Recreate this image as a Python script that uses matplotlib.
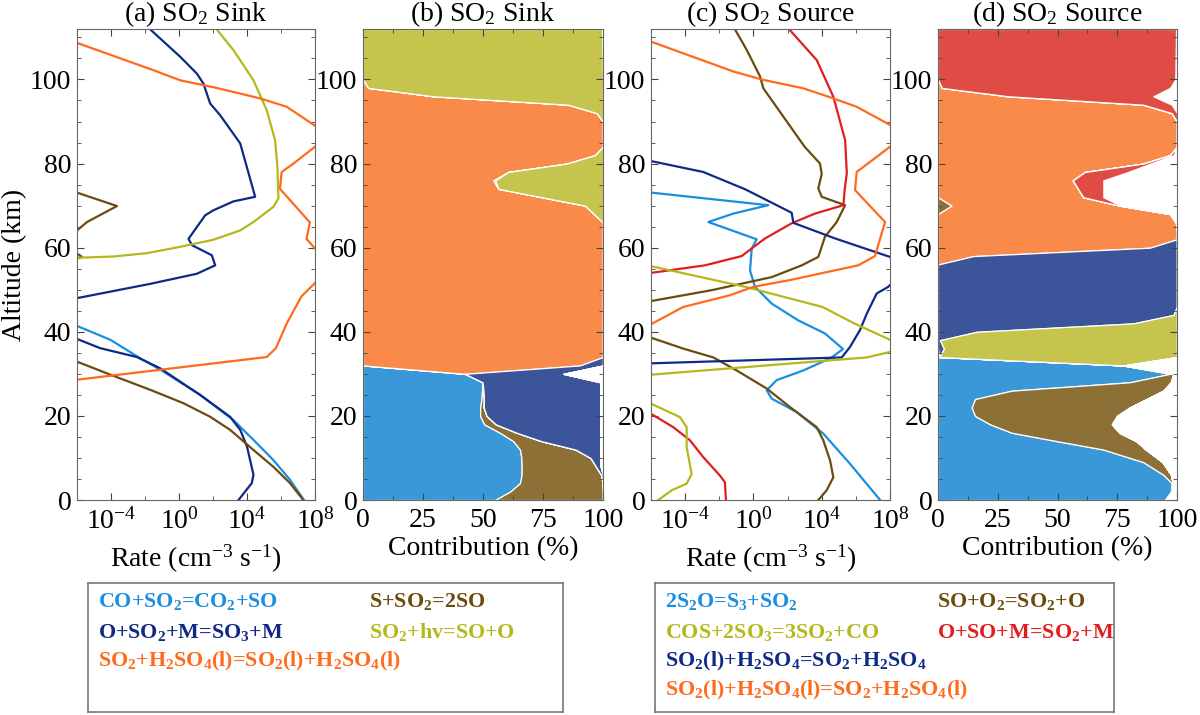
import numpy as np
import matplotlib
matplotlib.use("Agg")
import matplotlib.pyplot as plt
from matplotlib.ticker import FixedLocator, NullFormatter, LogFormatterMathtext, MultipleLocator

plt.rcParams['font.family'] = 'Liberation Serif'
plt.rcParams['mathtext.fontset'] = 'custom'
plt.rcParams['mathtext.rm'] = 'Liberation Serif'
plt.rcParams['mathtext.it'] = 'Liberation Serif:italic'
plt.rcParams['mathtext.bf'] = 'Liberation Serif:bold'
plt.rcParams['mathtext.default'] = 'rm'

nan = np.nan

# ---- (a) SO2 sink rates : altitude (km) / log10 rate (cm-3 s-1)
a_co_so2_alt = [0, 4.8, 9.5, 14.3, 19, 25, 31, 33.7, 38.1, 41.4]
a_co_so2_log = [7.35, 6.53, 5.55, 4.38, 3.2, 1.24, -1.1, -2.28, -4.04, -6]
a_o_so2_m_alt = [0, 4, 6, 12.7, 16.7, 19.8, 25, 31.3, 34, 36.1, 38.3, nan,
                 48, 51.4, 53.8, 55.8, 58.2, 60.6, 62.1, 64.9, 67.7, 68.9, 71, 72.1,
                 84.8, 91.5, 94.3, 99, 101.4, 105.4, 111.9]
a_o_so2_m_log = [3.5, 4.28, 4.38, 4.0, 3.6, 3.0, 1.24, -1.1, -2.48, -4.63, -6, nan,
                 -6, -1.69, 1.05, 2.13, 1.93, 0.76, 0.56, 1.05, 1.54, 2.03, 3.2, 4.48,
                 3.6, 2.42, 1.83, 1.44, 1.05, 0.07, -1.69]
a_s_so2_alt = [0, 4, 7.9, 11.9, 16.7, 19.8, 23, 26.2, 29.8, 32.9, nan,
               57.4, 57.8, 58.6, nan, 64.1, 66.1, 69.9, 73.1]
a_s_so2_log = [7.31, 6.53, 5.55, 4.38, 3.0, 1.83, 0.27, -1.69, -4.04, -6, nan,
               -6, -5.7, -6, nan, -6, -5.41, -3.65, -6]
a_so2_hv_alt = [57.6, 57.9, 58.7, 60.2, 61.9, 64.1, 66.1, 69.7, 71.7, 79.2, 85.6, 92.7, 99.8, 107, 111.9]
a_so2_hv_log = [-6, -3.85, -1.89, 0.07, 2.03, 3.6, 4.38, 5.55, 5.85, 5.79, 5.65, 5.16, 4.38, 3.2, 2.22]
a_h2so4_alt = [28.6, 34, 36.1, 42, 48.4, 51.6, nan, 59.8, 62.1, 66, 74, 78, 80, 84, nan,
               89, 93.5, 95.5, 98, 99.8, 102.2, 108.7]
a_h2so4_log = [-6, 5.16, 5.7, 6.34, 7.2, 8, nan, 8, 7.5, 7.7, 5.94, 6.04, 6.73, 8, nan,
               8, 6.34, 4.77, 2.2, 0.07, -1.5, -6]

# ---- (b) SO2 sink contributions (%)
alt_b = [0, 2, 4, 6, 8, 10, 12, 14, 16, 18, 20, 22, 24, 26, 28, 30, 32, 34,
         66, 70, 74, 76, 78, 80, 82, 84, 90, 92, 94, 96, 98, 100, 112]
b_co_so2 = [55, 61.3, 65.4, 66.1, 66.1, 66.0, 65.4, 62.6, 57.0, 50.5, 48.8, 48.8, 49.4, 49.6, 49.8, 42.5,
            0, 0, 0, 0, 0, 0, 0, 0, 0, 0, 0, 0, 0, 0, 0, 0, 0]
b_s_so2 = [45, 38.7, 34.4, 33.1, 30.9, 28.8, 23.1, 11.7, 7.0, 4.8, 2.7, 1.5, 1.0, 0.6, 0, 0,
           0, 0, 0, 0, 0, 0, 0, 0, 0, 0, 0, 0, 0, 0, 0, 0, 0]
b_h2so4 = [0, 0, 0, 0, 0, 0, 0, 0, 0, 0, 0, 0, 0, 0, 0, 0,
           90.4, 100, 100, 92.5, 56.4, 54.3, 60.5, 84.9, 96.7, 100, 100, 97.4, 85.5, 29.3, 2.2, 0, 0]
b_o_so2_m = [0, 0, 0.2, 0.8, 2.0, 4.2, 10.5, 24.7, 35.0, 43.7, 47.5, 48.7, 48.6, 48.8, 49.0, 41.0,
             9.6, 0, 0, 0, 0, 0.8, 0, 0, 0, 0, 0, 0, 0, 0, 0, 0, 0]
b_so2_hv = [0, 0, 0, 0, 0, 0, 0, 0, 0, 0, 0, 0, 0, 0, 0, 0, 0, 0,
            0, 7.5, 43.6, 44.9, 39.5, 15.1, 3.3, 0, 0, 2.6, 14.5, 70.7, 97.8, 100, 99.6]

# ---- (c) SO2 source rates
c_s2o_alt = [0, 8.6, 15.8, 20.9, 24.1, 26.1, 28.5, 30.8, 33.8, 35.9, 39.6, 42.7, 46.7, 50.7,
             54.6, 59.8, 62.0, 66.1, 68.1, 70.1, 73.1]
c_s2o_log = [7.42, 5.66, 4.09, 2.54, 1.07, 0.78, 1.36, 2.92, 4.55, 5.25, 4.19, 2.63, 1.07, 0.09,
             -0.2, -0.1, 0.19, -2.64, -1.18, 0.87, -6]
c_so_o2_alt = [0, 2.3, 5.4, 9.4, 14.2, 17.3, 22.1, 26.5, 30.8, 33.9, 36.0, 38.6, nan,
               47.3, 49.9, 53.0, 55.8, 57.8, 62.6, 66.1, 70.1, 72.1, 74.1, 77.5, 80, 84,
               97.9, 100.7, 107, 111.9]
c_so_o2_log = [3.8, 4.29, 4.68, 4.49, 4.09, 3.71, 2.14, 0.78, -0.98, -2.35, -4.11, -6, nan,
               -6, -2.44, 1.07, 2.83, 3.8, 4.19, 4.88, 5.37, 4.0, 3.8, 4.0, 3.9, 3.0,
               0.58, 0.39, -0.39, -1.08]
c_o_so_m_alt = [0, 4.2, 5.8, 10.2, 14.2, 17.3, 20.5, nan,
                54.0, 55.8, 58.0, 62.2, 65.8, 68.1, 70.1, 74, 77.7, 85.6, 95.9, 104.6, 111.9]
c_o_so_m_log = [-1.61, -1.67, -1.96, -2.94, -3.72, -4.69, -6, nan,
                -6, -2.84, -0.69, 0.68, 2.24, 3.6, 5.27, 5.35, 5.47, 5.37, 4.68, 3.71, 2.10]
c_so2l_alt = [32.5, 33.9, 36.4, 40.4, 44.3, 49.1, 50.7, 51.1, nan,
              57.8, 62.2, 65.9, 68.3, 73.9, 78.0, 80.6]
c_so2l_log = [-6, 5.17, 5.66, 6.24, 6.64, 7.22, 7.9, 8, nan,
              8, 4.78, 2.34, 2.24, -0.49, -2.94, -6]
c_cos_alt = [0, 2.3, 3.9, 6.2, 12.6, 17.3, 19.7, 22.9, nan, 29.8, 33.9, 35.2, nan,
             38.1, 42, 45.9, 50.7, 55.6]
c_cos_log = [-5.57, -4.79, -3.91, -3.62, -3.91, -3.91, -4.3, -6, nan, -6, 6.64, 8, nan,
             8, 5.9, 4.05, -0.49, -6]
c_h2so4l_alt = [41.8, 45.9, 48.7, 50.7, 52.3, 55.8, 58.0, 66.1, 73.7, 78.0, 84.0, nan,
                89.2, 93.5, 95.5, 97.9, 99.9, 101.9, 109.0]
c_h2so4l_log = [-6, -4.11, -1.37, 0, 2.14, 6.14, 7.12, 7.71, 5.95, 6.05, 8, nan,
                8, 6.05, 4.68, 2.92, 0.58, -1.18, -6]

# ---- (d) SO2 source contributions (%)
alt_d = [0, 2, 4, 6, 9, 12, 14, 16, 18, 20, 22, 24, 26, 28, 30, 32, 34, 36, 38, 40, 42, 44, 46,
         56, 58, 60, 62, 64, 66, 68, 70, 72, 74, 76, 78, 80, 82, 84, 90, 92, 94, 96, 98, 100, 112]
d_s2o = [95, 97.5, 97.8, 94.3, 85.9, 69.2, 49.7, 30.8, 21.8, 15.5, 14.1, 15.5, 30.8, 80.3, 97.1, 77.5, 0.5,
         0, 0, 0, 0, 0, 0, 0, 0, 0, 0, 0, 0, 0, 0, 0, 0, 0, 0, 0, 0, 0, 0, 0, 0, 0, 0, 0, 0]
d_so_o2 = [0, 0.5, 0.4, 3.2, 8.1, 17.8, 33.3, 45.2, 51.0, 59.5, 66.2, 71.8, 63.5, 17.2, 1.4, 0,
           0, 0, 0, 0, 0, 0, 0, 0, 0, 0, 0, 0, 0, 0,
           5.7, 0, 0, 0, 0, 0, 0, 0, 0, 0, 0, 0, 0, 0, 0]
d_h2so4l = [0, 0, 0, 0, 0, 0, 0, 0, 0, 0, 0, 0, 0, 0, 0, 0, 0, 0, 0, 0, 0, 0, 0,
            0, 14.8, 88.7, 100, 100, 99.5, 97, 70.3, 60.8, 58.6, 56.4, 61.5, 85.9, 97.1, 100,
            100, 97.8, 85.9, 29.4, 1.6, 0, 0]
d_so2l = [0, 0, 0, 0, 0, 0, 0, 0, 0, 0, 0, 0, 0, 0, 0, 0, 0,
          2.5, 0.8, 16.2, 81.7, 98.5, 100, 100, 85.2, 11.3, 0,
          0, 0, 0, 0, 0, 0, 0, 0, 0, 0, 0, 0, 0, 0, 0, 0, 0, 0]
d_cos = [0, 0, 0, 0, 0, 0, 0, 0, 0, 0, 0, 0, 0, 0, 0, 0,
         99.5, 97.5, 99.2, 83.8, 18.3, 1.5, 0,
         0, 0, 0, 0, 0, 0, 0, 0, 0, 0, 0, 0, 0, 0, 0, 0, 0, 0, 0, 0, 0, 0]
d_o_so_m = [0, 0, 0, 0, 0, 0, 0, 0, 0, 0, 0, 0, 0, 0, 0, 0, 0, 0, 0, 0, 0, 0, 0,
            0, 0, 0, 0, 0, 0, 0, 0.5, 8.4, 10.6, 12.8, 18.0, 3.0, 1.5, 0,
            0, 2.2, 11.9, 60.7, 95.5, 99.3, 99.6]

# colours
ln = {'lblue': '#1b8ee0', 'navy': '#0f2a86', 'brown': '#6b4b0e',
      'olive': '#b5b81a', 'orange': '#ff6a1c', 'red': '#e21d1d'}
fl = {'lblue': '#3a98d8', 'navy': '#3c5499', 'brown': '#8c7035',
      'olive': '#c5c44c', 'orange': '#f98a4a', 'red': '#e04b45'}

W, H = 1200, 715
fig = plt.figure(figsize=(12, 7.15), dpi=100)

def px_axes(x0, x1, y0, y1):
    return fig.add_axes([x0 / W, 1 - y1 / H, (x1 - x0) / W, (y1 - y0) / H])

def style(ax, log):
    ax.set_ylim(0, 112)
    ax.yaxis.set_major_locator(MultipleLocator(20))
    ax.yaxis.set_minor_locator(MultipleLocator(5))
    if log:
        ax.set_xscale('log')
        ax.set_xlim(1e-6, 1e8)
        ax.xaxis.set_major_locator(FixedLocator([1e-4, 1e0, 1e4, 1e8]))
        ax.xaxis.set_major_formatter(LogFormatterMathtext())
        ax.xaxis.set_minor_locator(FixedLocator([1e-2, 1e2, 1e6]))
        ax.xaxis.set_minor_formatter(NullFormatter())
        ax.set_xlabel('Rate (cm$^{-3}$ s$^{-1}$)', fontsize=20, labelpad=6)
    else:
        ax.set_xlim(0, 100)
        ax.xaxis.set_major_locator(MultipleLocator(25))
        ax.xaxis.set_minor_locator(MultipleLocator(12.5))
        ax.set_xlabel('Contribution (%)', fontsize=20, labelpad=2)
    ax.tick_params(which='both', direction='in', top=True, right=True,
                   labelsize=20, color='#444444')
    ax.tick_params(axis='x', pad=6)
    ax.tick_params(axis='y', pad=4)
    ax.tick_params(which='major', length=5)
    ax.tick_params(which='minor', length=3)
    for s in ax.spines.values():
        s.set_color('#666666')
        s.set_zorder(5)

def rate_line(ax, alt, logv, color):
    ax.plot(10 ** np.array(logv, dtype=float), alt, color=color, lw=1.6, clip_on=True)

def stack(ax, alt, parts, colors):
    left = np.zeros(len(alt))
    for p, c in zip(parts, colors):
        right = left + np.array(p, dtype=float)
        ax.fill_betweenx(alt, left, right, facecolor=c, edgecolor='white', linewidth=0.9)
        left = right

# (a)
ax_a = px_axes(77, 315, 29, 500)
rate_line(ax_a, a_co_so2_alt, a_co_so2_log, ln['lblue'])
rate_line(ax_a, a_o_so2_m_alt, a_o_so2_m_log, ln['navy'])
rate_line(ax_a, a_s_so2_alt, a_s_so2_log, ln['brown'])
rate_line(ax_a, a_so2_hv_alt, a_so2_hv_log, ln['olive'])
rate_line(ax_a, a_h2so4_alt, a_h2so4_log, ln['orange'])
style(ax_a, True)
ax_a.set_ylabel('Altitude (km)', fontsize=20)
ax_a.yaxis.set_label_coords(-0.21, 0.5)
ax_a.set_title('(a) SO$_2$ Sink', fontsize=20, pad=5)

# (b)
ax_b = px_axes(363, 603, 29, 500)
stack(ax_b, alt_b, [b_co_so2, b_s_so2, b_h2so4, b_o_so2_m, b_so2_hv],
      [fl['lblue'], fl['brown'], fl['orange'], fl['navy'], fl['olive']])
style(ax_b, False)
ax_b.set_title('(b) SO$_2$ Sink', fontsize=20, pad=5)

# (c)
ax_c = px_axes(651, 890, 29, 500)
rate_line(ax_c, c_s2o_alt, c_s2o_log, ln['lblue'])
rate_line(ax_c, c_so_o2_alt, c_so_o2_log, ln['brown'])
rate_line(ax_c, c_o_so_m_alt, c_o_so_m_log, ln['red'])
rate_line(ax_c, c_so2l_alt, c_so2l_log, ln['navy'])
rate_line(ax_c, c_cos_alt, c_cos_log, ln['olive'])
rate_line(ax_c, c_h2so4l_alt, c_h2so4l_log, ln['orange'])
style(ax_c, True)
ax_c.set_title('(c) SO$_2$ Source', fontsize=20, pad=5)

# (d)
ax_d = px_axes(938, 1177, 29, 500)
stack(ax_d, alt_d, [d_s2o, d_so_o2, d_h2so4l, d_so2l, d_cos, d_o_so_m],
      [fl['lblue'], fl['brown'], fl['orange'], fl['navy'], fl['olive'], fl['red']])
style(ax_d, False)
ax_d.set_title('(d) SO$_2$ Source', fontsize=20, pad=5)

# legend boxes
def sub(s):
    # "SO_2" -> bold mathtext subscript
    out = ''
    i = 0
    while i < len(s):
        if s[i] == '_':
            out += r'$_\mathbf{' + s[i + 1] + '}$'
            i += 2
        else:
            out += s[i]
            i += 1
    return out

sink_labels = [('CO+SO_2=CO_2+SO', 'lblue', 0, 0), ('O+SO_2+M=SO_3+M', 'navy', 0, 1),
               ('SO_2+H_2SO_4(l)=SO_2(l)+H_2SO_4(l)', 'orange', 0, 2),
               ('S+SO_2=2SO', 'brown', 1, 0), ('SO_2+hv=SO+O', 'olive', 1, 1)]
source_labels = [('2S_2O=S_3+SO_2', 'lblue', 0, 0), ('COS+2SO_3=3SO_2+CO', 'olive', 0, 1),
                 ('SO_2(l)+H_2SO_4=SO_2+H_2SO_4', 'navy', 0, 2),
                 ('SO_2(l)+H_2SO_4(l)=SO_2+H_2SO_4(l)', 'orange', 0, 3),
                 ('SO+O_2=SO_2+O', 'brown', 1, 0), ('O+SO+M=SO_2+M', 'red', 1, 1)]
row_y = [0.853, 0.62, 0.388, 0.163]

def legend_box(x0, x1, labels, col_x):
    lax = px_axes(x0, x1, 583, 712)
    lax.set_xticks([])
    lax.set_yticks([])
    for s in lax.spines.values():
        s.set_color('#777777')
        s.set_linewidth(1.2)
    for text, key, col, row in labels:
        lax.text(col_x[col], row_y[row], sub(text), color=ln[key], fontsize=15.8,
                 fontweight='bold', va='center', ha='left', transform=lax.transAxes)

legend_box(88, 563, sink_labels, [0.021, 0.592])
legend_box(655, 1114, source_labels, [0.022, 0.614])

fig.savefig('out.png', dpi=100)
